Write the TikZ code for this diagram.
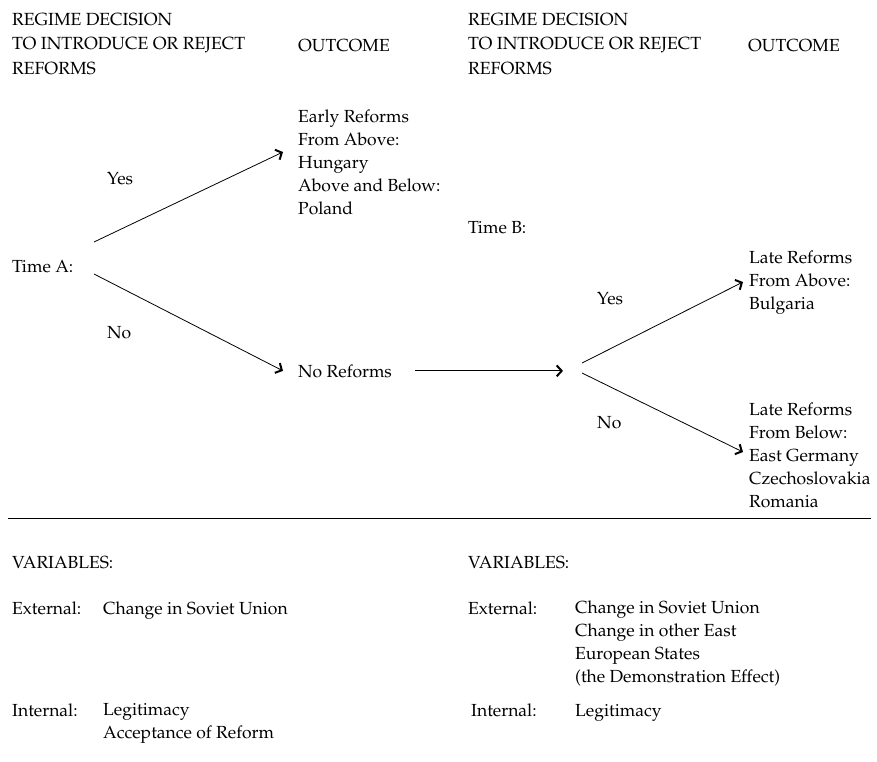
\documentclass[tikz,border=0pt]{standalone}
\usepackage[T1]{fontenc}
\usepackage{mathpazo}
\usetikzlibrary{positioning}
\usetikzlibrary{arrows.meta}

\tikzset{
  lbl/.style={anchor=base west,inner sep=0pt,font=\fontsize{17.5}{23}\selectfont},
  blk/.style={anchor=north west,inner sep=0pt,align=left,font=\fontsize{17.5}{23}\selectfont},
  hdr/.style={anchor=north west,inner sep=0pt,align=left,font=\fontsize{17.6}{24.5}\selectfont},
  arr/.style={-{Straight Barb[length=5pt,width=11pt,line width=2pt]},line width=0.8pt},
}

\begin{document}
\begin{tikzpicture}[x=1pt,y=-1pt]
			\useasboundingbox (0,0) rectangle (877,761);
			% headers
			\node[hdr] (hdrA) at (12,13) {REGIME DECISION\\TO INTRODUCE OR REJECT\\REFORMS};
			\node[lbl] (outA) at (298,51) {OUTCOME};
			\node[hdr] (hdrB) at (468,13) {REGIME DECISION\\TO INTRODUCE OR REJECT\\REFORMS};
			\node[lbl] (outB) at (748,51) {OUTCOME};
			% time A
			\node[lbl] (timeA) at (12,272) {Time A:};
			\node[lbl] (yesA) at (107,184) {Yes};
			\node[lbl] (noA) at (107,338) {No};
			\node[blk] (early) at (298,110) {Early Reforms\\From Above:\\Hungary\\Above and Below:\\Poland};
			\node[lbl] (noref) at (298,377) {No Reforms};
			\coordinate (forkAup) at (94,242);
			\coordinate (forkAdn) at (94,274);
			\draw[arr] (forkAup) -- ([xshift=-15pt,yshift=-42pt]early.north west);
			\draw[arr] (forkAdn) -- ([xshift=-15pt]noref.west);
			% time B
			\node[lbl] (timeB) at (468,233) {Time B:};
			\node[lbl] (yesB) at (597,304) {Yes};
			\node[lbl] (noB) at (597,428) {No};
			\node[blk] (lateup) at (749,251) {Late Reforms\\From Above:\\Bulgaria};
			\node[blk] (latedn) at (749,403) {Late Reforms\\From Below:\\East Germany\\Czechoslovakia\\Romania};
			\coordinate (forkB) at (563,372);
			\coordinate (forkBup) at (582,363);
			\coordinate (forkBdn) at (582,373);
			\draw[arr] ([xshift=23pt]noref.east) -- (forkB |- noref.east);
			\draw[arr] (forkBup) -- ([xshift=-6pt,yshift=-31pt]lateup.north west);
			\draw[arr] (forkBdn) -- ([xshift=-6pt,yshift=-49pt]latedn.north west);
			% rule
			\draw[line width=0.9pt] (8,518) -- (871,518);
			% variables
			\node[lbl] (varA) at (12,568) {VARIABLES:};
			\node[lbl] (extA) at (12,614) {External:};
			\node[lbl] (extAv) at (103,614) {Change in Soviet Union};
			\node[lbl] (intA) at (12,716) {Internal:};
			\node[blk] (intAv) at (103,703) {Legitimacy\\Acceptance of Reform};
			\node[lbl] (varB) at (468,568) {VARIABLES:};
			\node[lbl] (extB) at (468,614) {External:};
			\node[blk] (extBv) at (575,601) {Change in Soviet Union\\Change in other East\\European States\\(the Demonstration Effect)};
			\node[lbl] (intB) at (471,716) {Internal:};
			\node[lbl] (intBv) at (575,716) {Legitimacy};
\end{tikzpicture}
\end{document}
